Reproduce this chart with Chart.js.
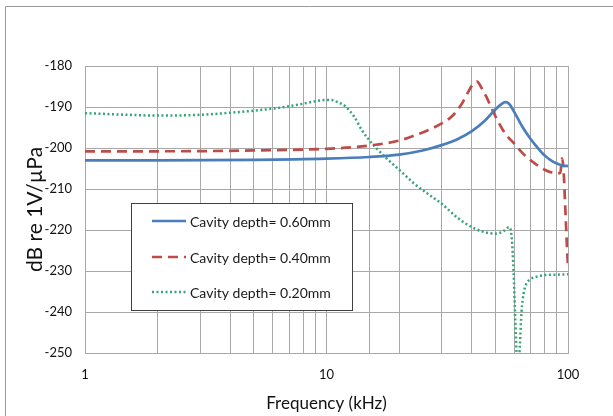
<!DOCTYPE html>
<html>
<head>
<meta charset="utf-8">
<script src="https://cdn.jsdelivr.net/npm/chart.js@4/dist/chart.umd.min.js"></script>
<style>
html,body{margin:0;padding:0;background:#fff;}
#wrap{width:613px;height:416px;position:relative;}
</style>
</head>
<body>
<div id="wrap"><canvas id="c" width="613" height="416"></canvas></div>
<script>
// ---- data ----
const seriesLabels = ["Cavity depth= 0.60mm", "Cavity depth= 0.40mm", "Cavity depth= 0.20mm"];

const freq060 = [1, 2, 5, 10, 15, 20, 25, 30, 35, 40, 45, 50, 53, 55, 57, 60, 65, 70, 75, 80, 85, 90, 95, 100];
const db060   = [-203, -203, -202.9, -202.6, -202.2, -201.6, -200.6, -199.3, -197.8, -195.9, -193.5, -190.6, -189.3, -188.8, -189.2, -191.3, -195, -197.8, -200, -201.8, -203, -203.8, -204.3, -204.4];

const freq040 = [1, 2, 5, 10, 13, 16, 20, 23, 26, 30, 33, 36, 38.5, 40, 42, 44, 46, 48, 51, 55, 60, 65, 70, 75, 80, 85, 90, 93, 94.5, 96, 97, 98, 99, 100];
const db040   = [-200.8, -200.8, -200.6, -200.2, -199.8, -199.2, -198.2, -197, -195.8, -194, -192.3, -189.6, -186.5, -184.8, -183.8, -185.5, -187.6, -190, -193.2, -196.5, -199, -201.3, -203, -204.3, -205.3, -205.9, -206.2, -206, -202.5, -206, -212, -218, -224, -229];

const freq020 = [1, 1.5, 2, 3, 4, 5, 6, 7, 8, 9, 10, 10.5, 11, 11.5, 12, 13, 14, 15, 16, 18, 20, 23, 26, 30, 35, 40, 45, 50, 54, 57, 58.5, 59.5, 60.5, 61.5, 62.3, 63.2, 64.2, 65.5, 67, 70, 75, 80, 90, 100];
const db020   = [-191.5, -191.9, -192.1, -191.9, -191.4, -190.9, -190.4, -189.8, -189.2, -188.6, -188.3, -188.3, -188.7, -189.2, -189.9, -192.3, -195.6, -198, -199.9, -202.9, -205.3, -208.6, -211, -213.6, -217.1, -219.3, -220.5, -220.9, -220.3, -219.3, -222, -230, -242, -252, -255, -248, -240, -235.5, -233.3, -232, -231.3, -231, -230.9, -230.8];

const xTickLabels = [1, 10, 100];
const yMin = -250, yMax = -180, yStep = 10;

function pts(xs, ys){ return xs.map((x,i)=>({x:x, y:ys[i]})); }

const FONT = "Lato, 'Open Sans', sans-serif";

const framePlugin = {
  id:'frame',
  beforeDraw(chart){
    const ctx = chart.ctx;
    ctx.save();
    ctx.strokeStyle = '#9a9a9a';
    ctx.lineWidth = 1;
    ctx.beginPath();
    ctx.moveTo(5.5, 416);
    ctx.lineTo(5.5, 6.5);
    ctx.lineTo(613, 6.5);
    ctx.stroke();
    ctx.restore();
  }
};

const legendPlugin = {
  id:'boxLegend',
  afterDraw(chart){
    const ctx = chart.ctx;
    const x0 = 131.5, y0 = 203.5, w = 221, h = 107;
    ctx.save();
    ctx.fillStyle = '#fff';
    ctx.fillRect(x0, y0, w, h);
    ctx.strokeStyle = '#404040';
    ctx.lineWidth = 1;
    ctx.strokeRect(x0, y0, w, h);
    const rows = [221, 257, 292];
    chart.data.datasets.forEach((ds, i)=>{
      const y = rows[i];
      ctx.strokeStyle = ds.borderColor;
      ctx.lineWidth = ds.borderWidth;
      ctx.setLineDash(ds.borderDash || []);
      ctx.beginPath();
      ctx.moveTo(152, y);
      ctx.lineTo(186, y);
      ctx.stroke();
      ctx.setLineDash([]);
      ctx.fillStyle = '#1a1a1a';
      ctx.font = "14px " + FONT;
      ctx.textBaseline = 'middle';
      ctx.textAlign = 'left';
      ctx.fillText(ds.label, 190, y + 1);
    });
    ctx.restore();
  }
};

new Chart(document.getElementById('c'), {
  type:'line',
  data:{
    datasets:[
      {label:seriesLabels[0], data:pts(freq060, db060), borderColor:'#4a7ebb', borderWidth:2.7, pointRadius:0, cubicInterpolationMode:'monotone', fill:false},
      {label:seriesLabels[1], data:pts(freq040, db040), borderColor:'#be4b48', borderWidth:2.7, borderDash:[10,6], pointRadius:0, cubicInterpolationMode:'monotone', fill:false},
      {label:seriesLabels[2], data:pts(freq020, db020), borderColor:'#35a577', borderWidth:2.5, borderDash:[2,2.5], pointRadius:0, cubicInterpolationMode:'monotone', fill:false}
    ]
  },
  options:{
    responsive:false,
    animation:false,
    layout:{padding:{top:66, right:45, left:0, bottom:0}},
    plugins:{legend:{display:false}, tooltip:{enabled:false}},
    scales:{
      x:{
        type:'logarithmic', min:1, max:100,
        afterFit(s){ s.height = 63; },
        grid:{color:'#a8a8a8', lineWidth:1, drawTicks:false},
        border:{color:'#a8a8a8'},
        ticks:{
          autoSkip:false, maxRotation:0, padding:14,
          color:'#111', font:{family:FONT, size:13},
          callback(v){ return xTickLabels.includes(v) ? String(v) : ''; }
        },
        title:{display:true, text:'Frequency (kHz)', color:'#111', font:{family:FONT, size:17}, padding:{top:0,bottom:2}}
      },
      y:{
        min:yMin, max:yMax,
        afterFit(s){ s.width = 85; },
        grid:{color:'#a8a8a8', lineWidth:1, drawTicks:false},
        border:{color:'#a8a8a8'},
        ticks:{stepSize:yStep, padding:13, color:'#111', font:{family:FONT, size:13}},
        title:{display:true, text:'dB re 1V/µPa', color:'#111', font:{family:FONT, size:21}, padding:{top:23,bottom:0}}
      }
    }
  },
  plugins:[framePlugin, legendPlugin]
});
</script>
</body>
</html>
